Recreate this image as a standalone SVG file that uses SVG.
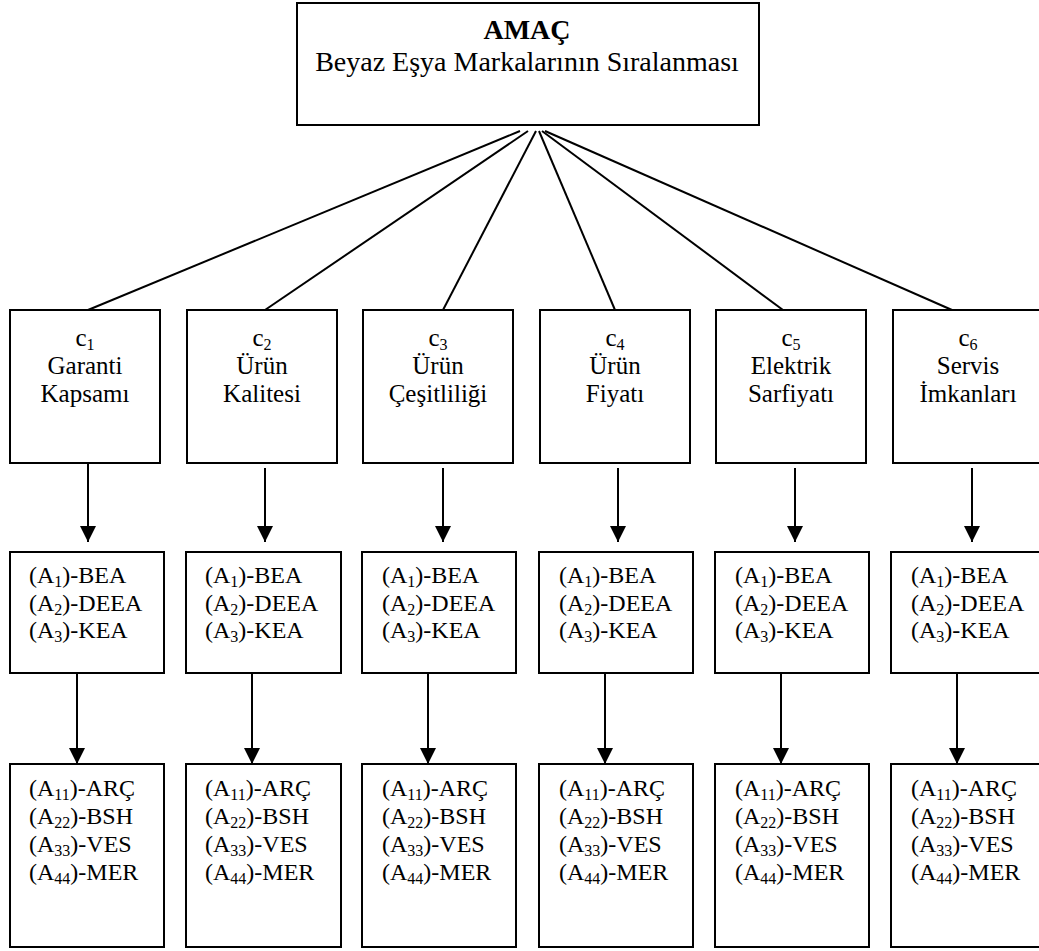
<svg xmlns="http://www.w3.org/2000/svg" width="1039" height="951" viewBox="0 0 1039 951">
<style>
  .box { fill: #fff; stroke: #000; stroke-width: 2; }
  .ln { stroke: #000; stroke-width: 2; fill: none; }
  .arr { stroke: #000; stroke-width: 2; fill: none; marker-end: url(#ah); }
  text { font-family: "Liberation Serif", "Times New Roman", serif; fill: #000; }
  .title { font-size: 28px; text-anchor: middle; }
  .crit { font-size: 25px; text-anchor: middle; }
  .alt { font-size: 24px; }
  .sub { font-size: 16px; }
</style>
<defs>
  <marker id="ah" markerUnits="userSpaceOnUse" markerWidth="16" markerHeight="16" refX="16" refY="8" orient="auto">
    <path d="M0,0 L16,8 L0,16 z" fill="#000"/>
  </marker>
</defs>
<rect width="1039" height="951" fill="#fff"/>

<g id="connectors">
  <line class="ln" x1="520" y1="131" x2="88" y2="310"/>
  <line class="ln" x1="528" y1="131" x2="265" y2="310"/>
  <line class="ln" x1="536" y1="131" x2="443" y2="310"/>
  <line class="ln" x1="539" y1="131" x2="615" y2="310"/>
  <line class="ln" x1="542" y1="131" x2="783" y2="310"/>
  <line class="ln" x1="545" y1="131" x2="952" y2="310"/>

  <line class="arr" x1="88" y1="463" x2="88" y2="542"/>
  <line class="arr" x1="265" y1="468" x2="265" y2="542"/>
  <line class="arr" x1="443" y1="468" x2="443" y2="542"/>
  <line class="arr" x1="618" y1="468" x2="618" y2="542"/>
  <line class="arr" x1="795" y1="468" x2="795" y2="542"/>
  <line class="arr" x1="972" y1="468" x2="972" y2="542"/>

  <line class="arr" x1="77" y1="673" x2="77" y2="764"/>
  <line class="arr" x1="252" y1="673" x2="252" y2="764"/>
  <line class="arr" x1="428" y1="673" x2="428" y2="764"/>
  <line class="arr" x1="605" y1="673" x2="605" y2="764"/>
  <line class="arr" x1="781" y1="673" x2="781" y2="764"/>
  <line class="arr" x1="957" y1="673" x2="957" y2="764"/>
</g>

<g id="goal">
  <rect class="box" x="297" y="3" width="462" height="122"/>
  <text class="title" x="527" y="39" font-weight="bold">AMAÇ</text>
  <text class="title" x="527" y="71">Beyaz Eşya Markalarının Sıralanması</text>
</g>

<g id="c1">
  <rect class="box" x="10" y="310" width="150" height="153"/>
  <text class="crit" x="85" y="346">c<tspan class="sub" dy="4">1</tspan></text>
  <text class="crit" x="85" y="374">Garanti</text>
  <text class="crit" x="85" y="402">Kapsamı</text>
</g>
<g id="c2">
  <rect class="box" x="187" y="310" width="150" height="153"/>
  <text class="crit" x="262" y="346">c<tspan class="sub" dy="4">2</tspan></text>
  <text class="crit" x="262" y="374">Ürün</text>
  <text class="crit" x="262" y="402">Kalitesi</text>
</g>
<g id="c3">
  <rect class="box" x="363" y="310" width="150" height="153"/>
  <text class="crit" x="438" y="346">c<tspan class="sub" dy="4">3</tspan></text>
  <text class="crit" x="438" y="374">Ürün</text>
  <text class="crit" x="438" y="402">Çeşitliliği</text>
</g>
<g id="c4">
  <rect class="box" x="540" y="310" width="150" height="153"/>
  <text class="crit" x="615" y="346">c<tspan class="sub" dy="4">4</tspan></text>
  <text class="crit" x="615" y="374">Ürün</text>
  <text class="crit" x="615" y="402">Fiyatı</text>
</g>
<g id="c5">
  <rect class="box" x="716" y="310" width="150" height="153"/>
  <text class="crit" x="791" y="346">c<tspan class="sub" dy="4">5</tspan></text>
  <text class="crit" x="791" y="374">Elektrik</text>
  <text class="crit" x="791" y="402">Sarfiyatı</text>
</g>
<g id="c6">
  <rect class="box" x="893" y="310" width="150" height="153"/>
  <text class="crit" x="968" y="346">c<tspan class="sub" dy="4">6</tspan></text>
  <text class="crit" x="968" y="374">Servis</text>
  <text class="crit" x="968" y="402">İmkanları</text>
</g>

<g id="alt1">
  <rect class="box" x="10" y="552" width="154" height="121"/>
  <text class="alt" x="29" y="583">(A<tspan class="sub" dy="4">1</tspan><tspan dy="-4">)-BEA</tspan></text>
  <text class="alt" x="29" y="611">(A<tspan class="sub" dy="4">2</tspan><tspan dy="-4">)-DEEA</tspan></text>
  <text class="alt" x="29" y="638">(A<tspan class="sub" dy="4">3</tspan><tspan dy="-4">)-KEA</tspan></text>
</g>
<g id="alt2">
  <rect class="box" x="186" y="552" width="155" height="121"/>
  <text class="alt" x="205" y="583">(A<tspan class="sub" dy="4">1</tspan><tspan dy="-4">)-BEA</tspan></text>
  <text class="alt" x="205" y="611">(A<tspan class="sub" dy="4">2</tspan><tspan dy="-4">)-DEEA</tspan></text>
  <text class="alt" x="205" y="638">(A<tspan class="sub" dy="4">3</tspan><tspan dy="-4">)-KEA</tspan></text>
</g>
<g id="alt3">
  <rect class="box" x="362" y="552" width="154" height="121"/>
  <text class="alt" x="382" y="583">(A<tspan class="sub" dy="4">1</tspan><tspan dy="-4">)-BEA</tspan></text>
  <text class="alt" x="382" y="611">(A<tspan class="sub" dy="4">2</tspan><tspan dy="-4">)-DEEA</tspan></text>
  <text class="alt" x="382" y="638">(A<tspan class="sub" dy="4">3</tspan><tspan dy="-4">)-KEA</tspan></text>
</g>
<g id="alt4">
  <rect class="box" x="539" y="552" width="154" height="121"/>
  <text class="alt" x="559" y="583">(A<tspan class="sub" dy="4">1</tspan><tspan dy="-4">)-BEA</tspan></text>
  <text class="alt" x="559" y="611">(A<tspan class="sub" dy="4">2</tspan><tspan dy="-4">)-DEEA</tspan></text>
  <text class="alt" x="559" y="638">(A<tspan class="sub" dy="4">3</tspan><tspan dy="-4">)-KEA</tspan></text>
</g>
<g id="alt5">
  <rect class="box" x="715" y="552" width="154" height="121"/>
  <text class="alt" x="735" y="583">(A<tspan class="sub" dy="4">1</tspan><tspan dy="-4">)-BEA</tspan></text>
  <text class="alt" x="735" y="611">(A<tspan class="sub" dy="4">2</tspan><tspan dy="-4">)-DEEA</tspan></text>
  <text class="alt" x="735" y="638">(A<tspan class="sub" dy="4">3</tspan><tspan dy="-4">)-KEA</tspan></text>
</g>
<g id="alt6">
  <rect class="box" x="891" y="552" width="154" height="121"/>
  <text class="alt" x="911" y="583">(A<tspan class="sub" dy="4">1</tspan><tspan dy="-4">)-BEA</tspan></text>
  <text class="alt" x="911" y="611">(A<tspan class="sub" dy="4">2</tspan><tspan dy="-4">)-DEEA</tspan></text>
  <text class="alt" x="911" y="638">(A<tspan class="sub" dy="4">3</tspan><tspan dy="-4">)-KEA</tspan></text>
</g>

<g id="sub1">
  <rect class="box" x="10" y="764" width="154" height="183"/>
  <text class="alt" x="29" y="796">(A<tspan class="sub" dy="4">11</tspan><tspan dy="-4">)-ARÇ</tspan></text>
  <text class="alt" x="29" y="824">(A<tspan class="sub" dy="4">22</tspan><tspan dy="-4">)-BSH</tspan></text>
  <text class="alt" x="29" y="852">(A<tspan class="sub" dy="4">33</tspan><tspan dy="-4">)-VES</tspan></text>
  <text class="alt" x="29" y="880">(A<tspan class="sub" dy="4">44</tspan><tspan dy="-4">)-MER</tspan></text>
</g>
<g id="sub2">
  <rect class="box" x="186" y="764" width="155" height="183"/>
  <text class="alt" x="205" y="796">(A<tspan class="sub" dy="4">11</tspan><tspan dy="-4">)-ARÇ</tspan></text>
  <text class="alt" x="205" y="824">(A<tspan class="sub" dy="4">22</tspan><tspan dy="-4">)-BSH</tspan></text>
  <text class="alt" x="205" y="852">(A<tspan class="sub" dy="4">33</tspan><tspan dy="-4">)-VES</tspan></text>
  <text class="alt" x="205" y="880">(A<tspan class="sub" dy="4">44</tspan><tspan dy="-4">)-MER</tspan></text>
</g>
<g id="sub3">
  <rect class="box" x="362" y="764" width="154" height="183"/>
  <text class="alt" x="382" y="796">(A<tspan class="sub" dy="4">11</tspan><tspan dy="-4">)-ARÇ</tspan></text>
  <text class="alt" x="382" y="824">(A<tspan class="sub" dy="4">22</tspan><tspan dy="-4">)-BSH</tspan></text>
  <text class="alt" x="382" y="852">(A<tspan class="sub" dy="4">33</tspan><tspan dy="-4">)-VES</tspan></text>
  <text class="alt" x="382" y="880">(A<tspan class="sub" dy="4">44</tspan><tspan dy="-4">)-MER</tspan></text>
</g>
<g id="sub4">
  <rect class="box" x="539" y="764" width="154" height="183"/>
  <text class="alt" x="559" y="796">(A<tspan class="sub" dy="4">11</tspan><tspan dy="-4">)-ARÇ</tspan></text>
  <text class="alt" x="559" y="824">(A<tspan class="sub" dy="4">22</tspan><tspan dy="-4">)-BSH</tspan></text>
  <text class="alt" x="559" y="852">(A<tspan class="sub" dy="4">33</tspan><tspan dy="-4">)-VES</tspan></text>
  <text class="alt" x="559" y="880">(A<tspan class="sub" dy="4">44</tspan><tspan dy="-4">)-MER</tspan></text>
</g>
<g id="sub5">
  <rect class="box" x="715" y="764" width="154" height="183"/>
  <text class="alt" x="735" y="796">(A<tspan class="sub" dy="4">11</tspan><tspan dy="-4">)-ARÇ</tspan></text>
  <text class="alt" x="735" y="824">(A<tspan class="sub" dy="4">22</tspan><tspan dy="-4">)-BSH</tspan></text>
  <text class="alt" x="735" y="852">(A<tspan class="sub" dy="4">33</tspan><tspan dy="-4">)-VES</tspan></text>
  <text class="alt" x="735" y="880">(A<tspan class="sub" dy="4">44</tspan><tspan dy="-4">)-MER</tspan></text>
</g>
<g id="sub6">
  <rect class="box" x="891" y="764" width="154" height="183"/>
  <text class="alt" x="911" y="796">(A<tspan class="sub" dy="4">11</tspan><tspan dy="-4">)-ARÇ</tspan></text>
  <text class="alt" x="911" y="824">(A<tspan class="sub" dy="4">22</tspan><tspan dy="-4">)-BSH</tspan></text>
  <text class="alt" x="911" y="852">(A<tspan class="sub" dy="4">33</tspan><tspan dy="-4">)-VES</tspan></text>
  <text class="alt" x="911" y="880">(A<tspan class="sub" dy="4">44</tspan><tspan dy="-4">)-MER</tspan></text>
</g>
</svg>
